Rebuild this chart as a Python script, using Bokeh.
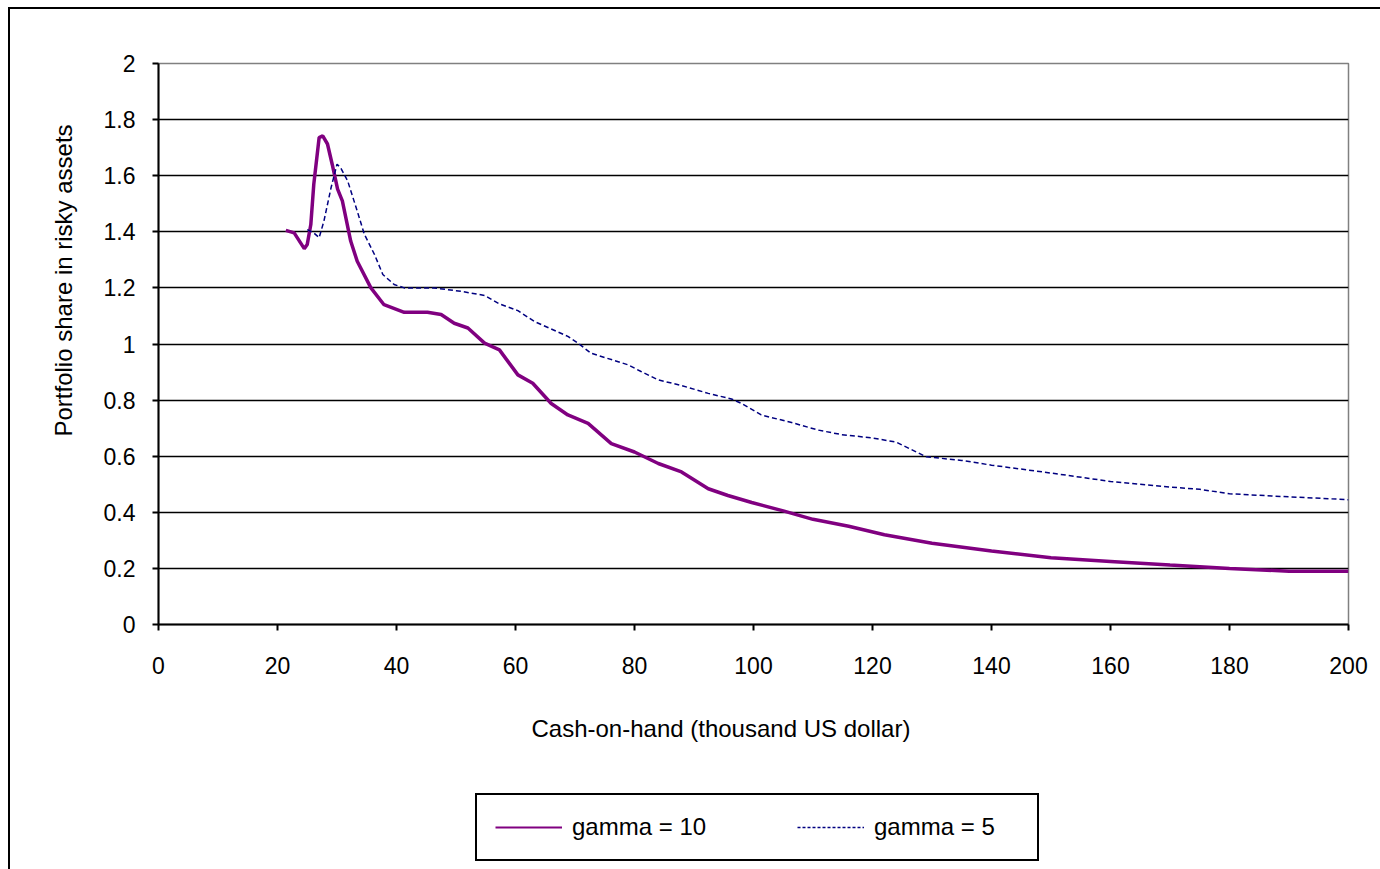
from bokeh.plotting import figure
from bokeh.layouts import column
from bokeh.models import (Range1d, FixedTicker, Legend, LegendItem, Title)
from bokeh.embed import file_html
from bokeh.resources import INLINE

# ---- data ----
gamma10_x = [21.4, 22.8, 24.5, 25.0, 25.6, 26.1, 27.0, 27.6, 28.4, 29.2, 30.1,
             30.9, 32.3, 33.4, 35.7, 37.9, 41.3, 45.2, 47.5, 49.7, 52.0, 54.8,
             57.3, 60.4, 62.9, 66.0, 68.8, 72.2, 76.1, 80.0, 84.0, 87.9, 92.4,
             95.7, 99.7, 105, 110, 116, 122, 130, 140, 150, 160, 170, 180,
             190, 200]
gamma10_y = [1.405, 1.396, 1.34, 1.355, 1.426, 1.57, 1.736, 1.742, 1.713, 1.64,
             1.552, 1.51, 1.367, 1.295, 1.2, 1.14, 1.113, 1.113, 1.105, 1.074,
             1.057, 1.003, 0.979, 0.89, 0.86, 0.788, 0.747, 0.717, 0.645,
             0.615, 0.574, 0.544, 0.484, 0.46, 0.435, 0.405, 0.375, 0.35,
             0.32, 0.29, 0.262, 0.238, 0.225, 0.212, 0.2, 0.19, 0.19]

gamma5_x = [25.0, 26.1, 27.0, 27.8, 29.0, 30.0, 30.6, 31.8, 33.4, 34.6, 36.3,
            37.7, 39.6, 41.3, 46.3, 50.8, 54.8, 57.3, 60.4, 63.2, 68.8, 70.5,
            72.7, 78.9, 81.1, 84.0, 87.9, 92.4, 96.3, 98.0, 101.3, 106.4,
            110.9, 114.8, 120, 124, 129, 135, 140, 150, 160, 170, 175, 180,
            190, 200]
gamma5_y = [1.408, 1.396, 1.379, 1.438, 1.557, 1.641, 1.629, 1.581, 1.474,
            1.391, 1.319, 1.248, 1.212, 1.2, 1.2, 1.188, 1.173, 1.143, 1.119,
            1.08, 1.027, 1.003, 0.967, 0.926, 0.902, 0.872, 0.852, 0.824,
            0.804, 0.788, 0.747, 0.72, 0.693, 0.677, 0.665, 0.65, 0.598,
            0.585, 0.568, 0.54, 0.51, 0.49, 0.482, 0.466, 0.455, 0.445]

x_ticks = [0, 20, 40, 60, 80, 100, 120, 140, 160, 180, 200]
y_ticks = [0, 0.2, 0.4, 0.6, 0.8, 1.0, 1.2, 1.4, 1.6, 1.8, 2.0]
y_tick_labels = ["0", "0.2", "0.4", "0.6", "0.8", "1", "1.2", "1.4", "1.6",
                 "1.8", "2"]
grid_ticks = [0.2, 0.4, 0.6, 0.8, 1.0, 1.2, 1.4, 1.6, 1.8]

series_names = ["gamma = 10", "gamma = 5"]
x_title = "Cash-on-hand (thousand US dollar)"
y_title = "Portfolio share in risky assets"

FONT = "Liberation Sans"
PURPLE = "#800080"
NAVY = "#000080"

# ---------------- main chart ----------------
p = figure(frame_width=1188, frame_height=559, output_backend="svg",
           toolbar_location=None,
           x_range=Range1d(0, 200), y_range=Range1d(0, 2),
           min_border_left=148, min_border_right=34, min_border_top=54,
           min_border_bottom=140)
p.styles = {"margin-left": "8px", "margin-top": "7px",
            "border-left": "2px solid black", "border-top": "2px solid black"}
p.background_fill_color = "white"
p.border_fill_color = "white"
p.outline_line_color = "#808080"
p.outline_line_width = 1.5

for ax in (p.xaxis[0], p.yaxis[0]):
    ax.axis_line_color = "black"
    ax.axis_line_width = 2
    ax.major_tick_line_color = "black"
    ax.major_tick_line_width = 2
    ax.major_tick_in = 0
    ax.major_tick_out = 6
    ax.minor_tick_line_color = None
    ax.major_label_text_font = FONT
    ax.major_label_text_font_size = "23px"
    ax.major_label_text_color = "black"

p.xaxis.ticker = FixedTicker(ticks=x_ticks)
p.yaxis.ticker = FixedTicker(ticks=y_ticks)
p.yaxis.major_label_overrides = {t: l for t, l in zip(y_ticks, y_tick_labels)}
p.xaxis.major_label_standoff = 26
p.yaxis.major_label_standoff = 17

p.xgrid.grid_line_color = None
p.ygrid.ticker = FixedTicker(ticks=grid_ticks)
p.ygrid.grid_line_color = "black"
p.ygrid.grid_line_width = 1.5


def side_title(text, offset, standoff):
    return Title(text=text, align="left", offset=offset, standoff=standoff,
                 text_font=FONT, text_font_size="24px",
                 text_font_style="normal", text_color="black")


p.add_layout(side_title(y_title, 188, 48), "left")
p.add_layout(side_title(x_title, 373, 72), "below")

p.line(gamma10_x, gamma10_y, line_color=PURPLE, line_width=3.5)
p.line(gamma5_x, gamma5_y, line_color=NAVY, line_width=1.5, line_dash="5 3")

# ---------------- legend strip below the chart ----------------
lf = figure(width=1370, height=107, output_backend="svg",
            toolbar_location=None, x_axis_location=None,
            y_axis_location=None, min_border=0,
            x_range=Range1d(1000, 1001), y_range=Range1d(1000, 1001))
lf.styles = {"margin-left": "8px", "border-left": "2px solid black"}
lf.outline_line_color = None
lf.xgrid.grid_line_color = None
lf.ygrid.grid_line_color = None
lf.background_fill_color = "white"
lf.border_fill_color = "white"

# same series, outside this strip's ranges: only their legend swatches show
l10 = lf.line(gamma10_x, gamma10_y, line_color=PURPLE, line_width=2)
l5 = lf.line(gamma5_x, gamma5_y, line_color=NAVY, line_width=1.5,
             line_dash="3 2")

legend = Legend(items=[LegendItem(label=series_names[0], renderers=[l10]),
                       LegendItem(label=series_names[1], renderers=[l5])],
                location=(317, 21), orientation="horizontal",
                margin=0, padding=18, spacing=80, glyph_width=67,
                label_standoff=10, label_width=145,
                label_text_font=FONT, label_text_font_size="24px",
                label_text_color="black",
                border_line_color="black", border_line_width=2,
                border_line_alpha=1.0,
                background_fill_color="white")
lf.add_layout(legend, "center")

layout = column(p, lf, spacing=0)
open("out.html", "w").write(file_html(layout, INLINE))
